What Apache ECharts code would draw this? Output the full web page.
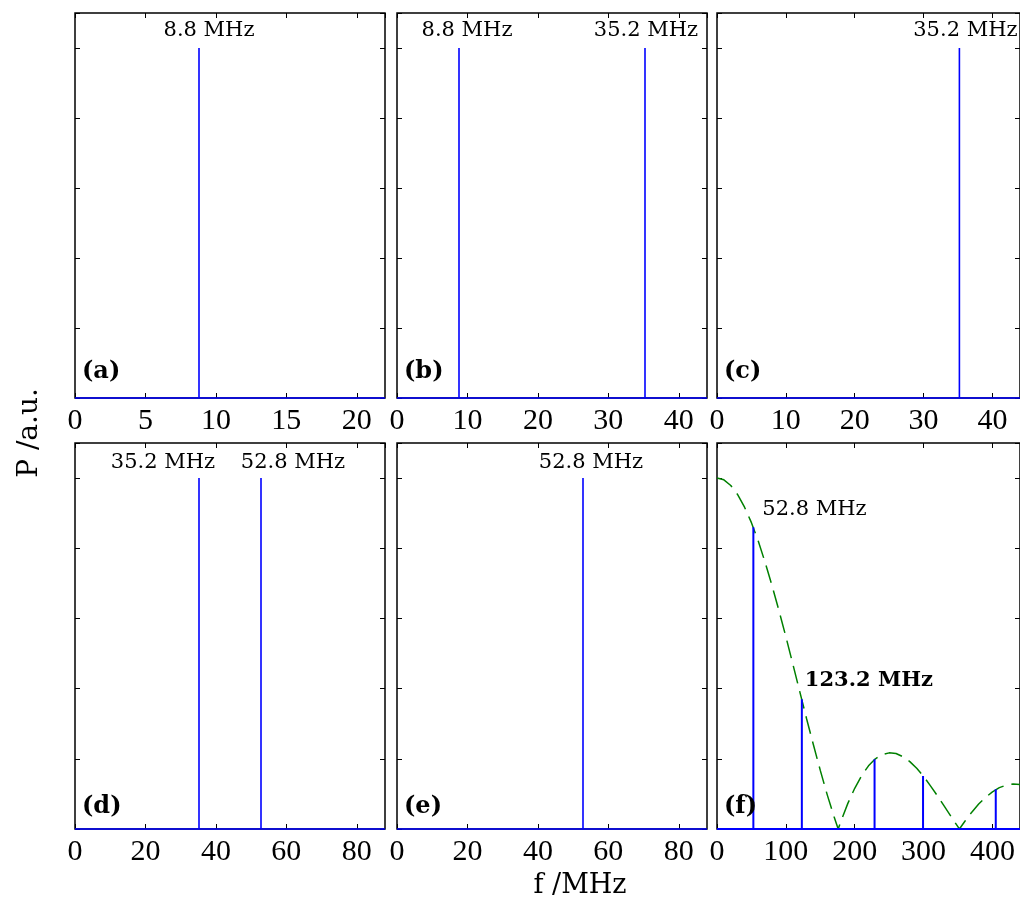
<!DOCTYPE html>
<html>
<head>
<meta charset="utf-8">
<script src="https://cdn.jsdelivr.net/npm/echarts@6/dist/echarts.min.js"></script>
<style>html,body{margin:0;padding:0;background:#fff}#c{width:1020px;height:901px}</style>
</head>
<body>
<div id="c"></div>
<script>
// ---- data ----
const panelNames = ['(a)', '(b)', '(c)', '(d)', '(e)', '(f)'];
const xMax = [22, 44, 44, 88, 88, 440];
const xStep = [5, 10, 10, 20, 20, 100];
const peakFreqs = [[8.8], [8.8, 35.2], [35.2], [35.2, 52.8], [52.8], [52.8, 123.2, 228.8, 299.2, 404.8]];
const peakAmps = [[1], [1, 1], [1], [1, 1], [1], [0.86, 0.37, 0.199, 0.151, 0.113]];
const peakLabels = [['8.8 MHz'], ['8.8 MHz', '35.2 MHz'], ['35.2 MHz'], ['35.2 MHz', '52.8 MHz'], ['52.8 MHz'], ['52.8 MHz', '123.2 MHz']];
const envF = [0, 10, 20, 30, 40, 50, 60, 70, 80, 90, 100, 110, 120, 130, 140, 150, 160, 170, 176, 180, 190, 200, 210, 220, 230, 240, 250, 260, 270, 280, 290, 300, 310, 320, 330, 340, 350, 352, 360, 370, 380, 390, 400, 410, 420, 430, 440];
const envP = [1.0, 0.995, 0.979, 0.953, 0.917, 0.873, 0.820, 0.759, 0.693, 0.622, 0.548, 0.471, 0.393, 0.315, 0.240, 0.167, 0.098, 0.035, 0.0, 0.022, 0.073, 0.116, 0.152, 0.180, 0.200, 0.212, 0.217, 0.215, 0.206, 0.192, 0.173, 0.150, 0.123, 0.095, 0.065, 0.035, 0.006, 0.0, 0.022, 0.048, 0.071, 0.090, 0.106, 0.118, 0.125, 0.128, 0.127];
const yMax = 1.1;
const yStep = 0.2;
const xTitle = 'f /MHz';
const yTitle = 'P /a.u.';

// ---- layout / style ----
const colLeft = [75, 397, 717];
const rowTop = [13, 443];
const gW = 310, rowH = [385, 386];
const labelOffsets = [[[10, -17]], [[8, -17], [1, -17]], [[6, -17]], [[-36, -16], [32, -16]], [[8, -16]], [[9, -18], [3, -19]]];
const annFont = 'DejaVu Serif';
const tickFont = 'Liberation Serif';

function tick() { return {show: true, inside: true, length: 5, lineStyle: {color: '#000', width: 1}}; }
function noLine() { return {show: false, onZero: false}; }

const grids = [], xAxes = [], yAxes = [], series = [], graphics = [];
for (let i = 0; i < 6; i++) {
  const r = Math.floor(i / 3), c = i % 3;
  grids.push({left: colLeft[c], top: rowTop[r], width: gW, height: rowH[r], show: true, borderColor: '#000', borderWidth: 1.5, backgroundColor: 'transparent'});
  xAxes.push({gridIndex: i, type: 'value', position: 'bottom', min: 0, max: xMax[i], interval: xStep[i],
    axisLine: noLine(), axisTick: tick(), splitLine: {show: false},
    axisLabel: {show: true, showMaxLabel: false, color: '#000', fontFamily: tickFont, fontSize: 30, margin: 8}});
  xAxes.push({gridIndex: i, type: 'value', position: 'top', min: 0, max: xMax[i], interval: xStep[i],
    axisLine: noLine(), axisTick: tick(), splitLine: {show: false}, axisLabel: {show: false}});
  yAxes.push({gridIndex: i, type: 'value', position: 'left', min: 0, max: yMax, interval: yStep,
    axisLine: noLine(), axisTick: tick(), splitLine: {show: false}, axisLabel: {show: false}});
  yAxes.push({gridIndex: i, type: 'value', position: 'right', min: 0, max: yMax, interval: yStep,
    axisLine: noLine(), axisTick: tick(), splitLine: {show: false}, axisLabel: {show: false}});

  // envelope (panel f)
  if (i === 5) {
    series.push({type: 'line', xAxisIndex: 2 * i, yAxisIndex: 2 * i, data: envF.map((f, k) => [f, envP[k]]),
      showSymbol: false, symbol: 'none', smooth: false, clip: false, z: 3,
      lineStyle: {color: '#008000', width: 1.5, type: [18, 8]}});
  }
  // spectrum: baseline + stems
  const pts = [[0, 0]];
  peakFreqs[i].forEach((f, k) => { pts.push([f, 0], [f, peakAmps[i][k]], [f, 0]); });
  pts.push([xMax[i], 0]);
  series.push({type: 'line', xAxisIndex: 2 * i, yAxisIndex: 2 * i, data: pts, showSymbol: false, symbol: 'none',
    clip: false, z: 4, lineStyle: {color: '#0000ff', width: i === 5 ? 2 : 1.6}});

  // peak labels
  const labData = [];
  peakLabels[i].forEach((t, k) => {
    const off = labelOffsets[i][k];
    const bold = (i === 5 && k === 1);
    labData.push({value: [peakFreqs[i][k], peakAmps[i][k]],
      label: {show: true, formatter: t, position: 'inside', offset: off,
        align: i === 5 ? 'left' : 'center', verticalAlign: 'middle',
        fontFamily: annFont, fontSize: 21, fontWeight: bold ? 'bold' : 'normal', color: '#000'}});
  });
  series.push({type: 'scatter', xAxisIndex: 2 * i, yAxisIndex: 2 * i, data: labData, symbolSize: 0,
    itemStyle: {color: '#000', opacity: 1}, silent: true, clip: false, z: 5});

  // panel letter
  graphics.push({type: 'text', left: colLeft[c] + 7, top: rowTop[r] + rowH[r] - (r === 0 ? 38 : 34),
    style: {text: panelNames[i], font: 'bold 24px "DejaVu Serif"', fill: '#000'}, z: 10});
}
graphics.push({type: 'text', x: 580, y: 886, style: {text: xTitle, font: '27px "DejaVu Serif"', fill: '#000', align: 'center', verticalAlign: 'middle'}});
graphics.push({type: 'text', x: 30, y: 433, rotation: Math.PI / 2, style: {text: yTitle, font: '28px "DejaVu Serif"', fill: '#000', align: 'center', verticalAlign: 'middle'}});

const chart = echarts.init(document.getElementById('c'), null, {renderer: 'canvas'});
chart.setOption({animation: false, backgroundColor: '#fff', grid: grids, xAxis: xAxes, yAxis: yAxes, series: series, graphic: graphics});
</script>
</body>
</html>
